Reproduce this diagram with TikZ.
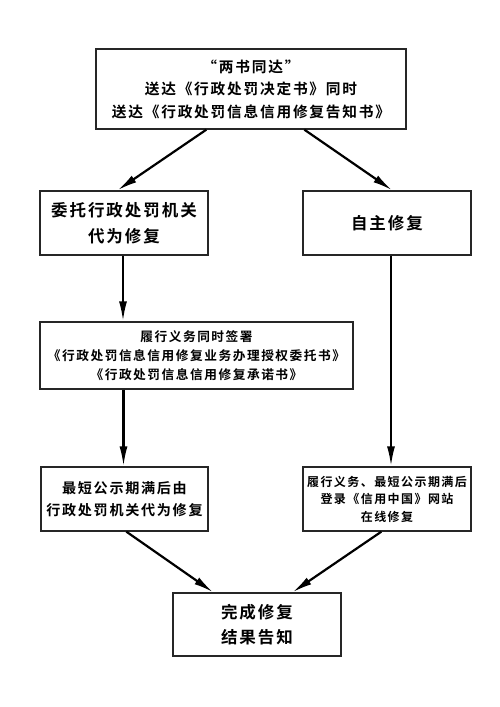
\documentclass[tikz,border=0pt]{standalone}
\usepackage{fontspec}
\setmainfont{Noto Sans CJK SC}[BoldFont={Noto Sans CJK SC Bold},LetterSpace=12]
\usetikzlibrary{arrows.meta,calc}
\tikzset{
  box/.style={draw=black!85,line width=1.3bp,fill=white,align=center,inner sep=0pt,font=\bfseries},
  conn/.style={line width=2.2bp,draw=black,-{Latex[length=20bp,width=8bp]}}
}
\begin{document}
\begin{tikzpicture}[x=1bp,y=-1bp]
\useasboundingbox (0,0) rectangle (500,707);
\fill[white] (0,0) rectangle (500,707);
\node[box,minimum width=310bp,minimum height=80bp,font=\bfseries\fontsize{14.7bp}{22.5bp}\selectfont] (top) at (251,89)
  {“两书同达”\\送达《行政处罚决定书》同时\\送达《行政处罚信息信用修复告知书》};
\node[box,minimum width=168bp,minimum height=64bp,font=\bfseries\fontsize{16.5bp}{26bp}\selectfont] (L2) at (124,223)
  {委托行政处罚机关\\代为修复};
\node[box,minimum width=168bp,minimum height=64bp,font=\bfseries\fontsize{16.5bp}{26bp}\selectfont] (R2) at (387,223)
  {自主修复};
\node[box,minimum width=313bp,minimum height=67bp,font=\bfseries\fontsize{12.7bp}{19bp}\selectfont] (B3) at (196.5,355.5)
  {履行义务同时签署\\《行政处罚信息信用修复业务办理授权委托书》\\《行政处罚信息信用修复承诺书》};
\node[box,minimum width=167bp,minimum height=64bp,font=\bfseries\fontsize{14.1bp}{22bp}\selectfont] (L4) at (124.5,499)
  {最短公示期满后由\\行政处罚机关代为修复};
\node[box,minimum width=168bp,minimum height=64bp,font=\bfseries\fontsize{12bp}{17.5bp}\selectfont] (R4) at (387,499)
  {履行义务、最短公示期满后\\登录《信用中国》网站\\在线修复};
\node[box,minimum width=168bp,minimum height=63bp,font=\bfseries\fontsize{16.5bp}{25bp}\selectfont] (B) at (257,624.5)
  {完成修复\\结果告知};
\draw[conn] ([xshift=111bp]top.south west) -- ([xshift=78bp]L2.north west);
\draw[conn] ([xshift=209bp]top.south west) -- ([xshift=90bp]R2.north west);
\draw[conn] ([xshift=-1bp]L2.south) -- ([xshift=-1bp]L2.south |- B3.north);
\draw[conn] ([xshift=-1bp]L4.north |- B3.south) -- ([xshift=-1bp]L4.north);
\draw[conn] ([xshift=4bp]R2.south) -- ([xshift=4bp]R4.north);
\draw[conn] ([xshift=86bp]L4.south west) -- ([xshift=41bp]B.north west);
\draw[conn] ([xshift=79bp]R4.south west) -- ([xshift=120bp]B.north west);
\end{tikzpicture}
\end{document}
